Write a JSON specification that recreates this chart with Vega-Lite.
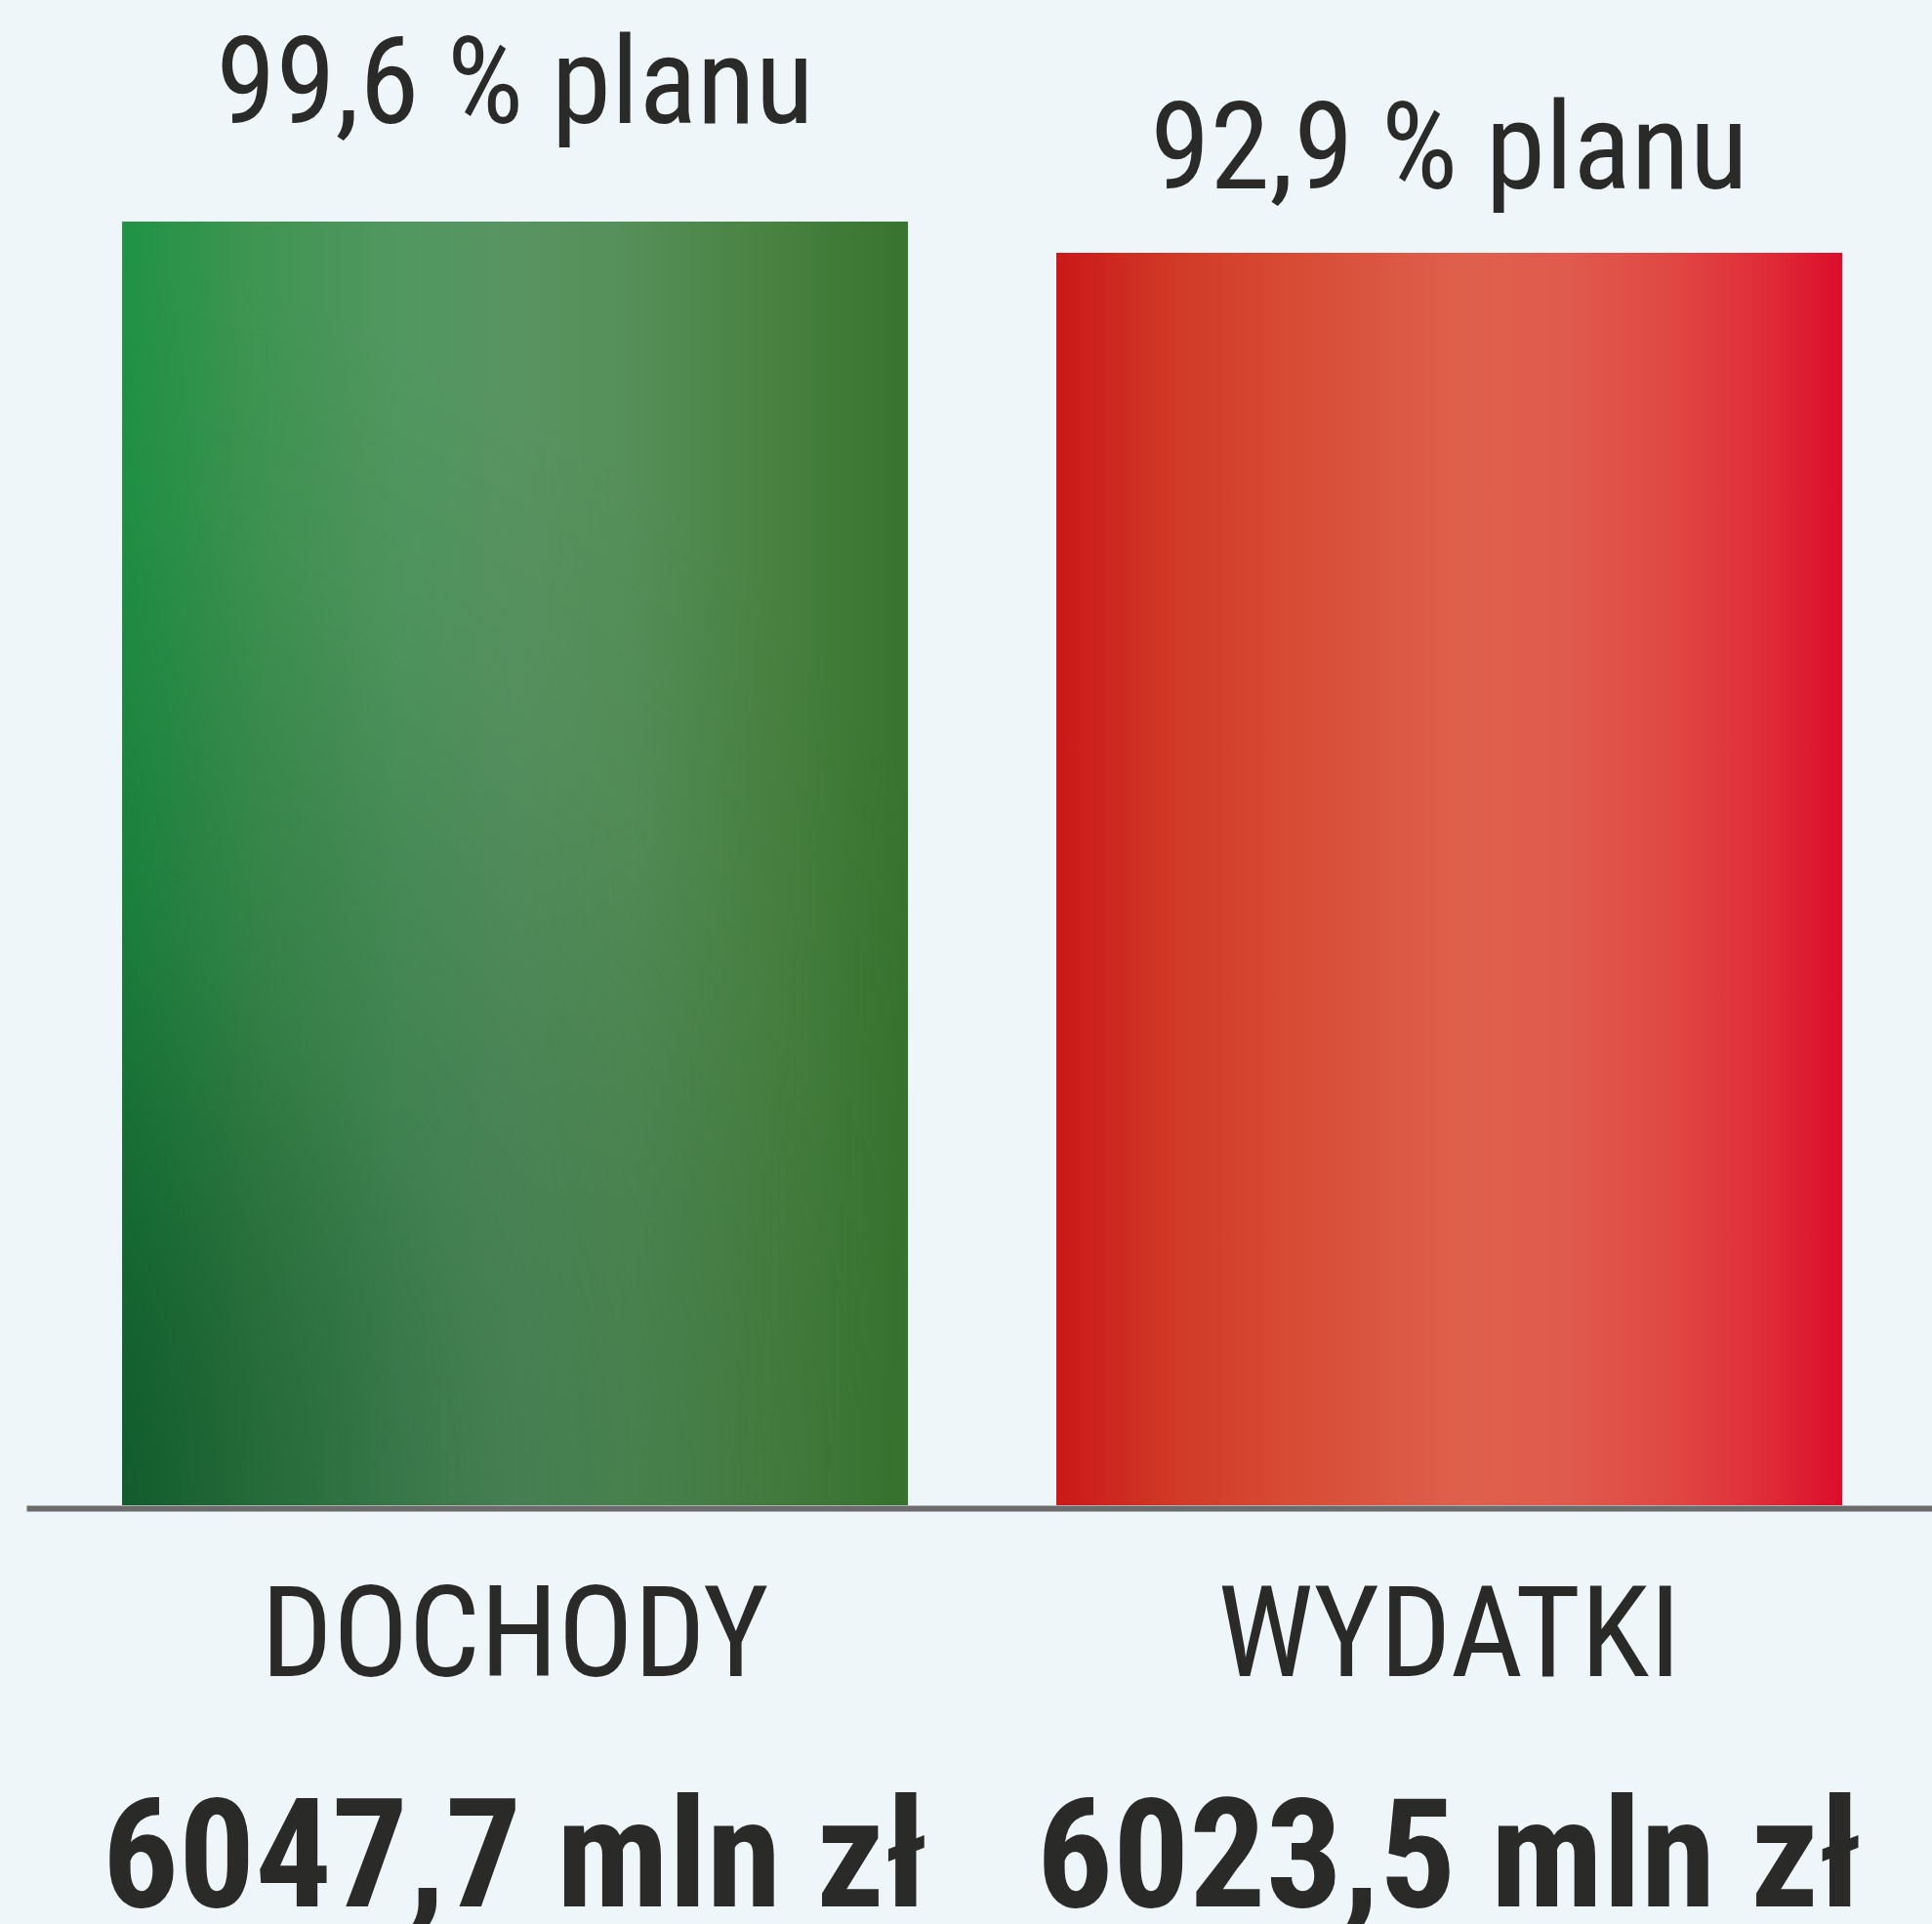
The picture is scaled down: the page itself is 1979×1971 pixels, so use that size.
{
  "$schema": "https://vega.github.io/schema/vega-lite/v6.json",
  "width": 1952,
  "height": 1542,
  "autosize": {"type": "none"},
  "padding": {"left": 27, "right": 0, "top": 0, "bottom": 429},
  "background": "#eef6fa",
  "config": {"view": {"stroke": null}},
  "data": {
    "values": [
      {"kategoria": "DOCHODY", "wartosc": 6047.7, "plan": "99,6 % planu", "etykieta": "6047,7 mln zł"},
      {"kategoria": "WYDATKI", "wartosc": 6023.5, "plan": "92,9 % planu", "etykieta": "6023,5 mln zł"}
    ]
  },
  "encoding": {
    "x": {
      "field": "kategoria",
      "type": "nominal",
      "sort": null,
      "scale": {"paddingInner": 0.1588, "paddingOuter": 0.0993, "align": 0.516},
      "axis": {
        "title": null,
        "orient": "bottom",
        "ticks": false,
        "domainColor": "#6b6b6b",
        "domainWidth": 6,
        "offset": 3,
        "labelAngle": 0,
        "labelLimit": 0,
        "labelFont": "Roboto Condensed, Roboto",
        "labelFontSize": 129,
        "labelColor": "#2a2a28",
        "labelBaseline": "alphabetic",
        "labelPadding": 171
      }
    }
  },
  "layer": [
    {
      "transform": [{"filter": "datum.kategoria === 'DOCHODY'"}],
      "mark": {
        "type": "bar",
        "fill": {
          "gradient": "linear", "x1": 0, "y1": 0, "x2": 1, "y2": 0,
          "stops": [
            {"offset": 0, "color": "#1f9345"},
            {"offset": 0.17, "color": "#3f9552"},
            {"offset": 0.35, "color": "#519760"},
            {"offset": 0.5, "color": "#589462"},
            {"offset": 0.65, "color": "#558f58"},
            {"offset": 0.82, "color": "#4a8242"},
            {"offset": 1, "color": "#38742f"}
          ]
        }
      },
      "encoding": {
        "y": {"field": "wartosc", "type": "quantitative", "scale": {"domain": [5055.5, 6219], "zero": false, "nice": false}, "axis": null},
        "y2": {"datum": 5055.5}
      }
    },
    {
      "transform": [{"filter": "datum.kategoria === 'DOCHODY'"}],
      "mark": {
        "type": "bar",
        "fill": {
          "gradient": "radial", "x1": 0, "y1": 1, "r1": 0, "x2": 0, "y2": 1, "r2": 1,
          "stops": [
            {"offset": 0, "color": "rgba(10,60,30,0.9)"},
            {"offset": 0.25, "color": "rgba(10,60,30,0.55)"},
            {"offset": 0.5, "color": "rgba(10,60,30,0.24)"},
            {"offset": 0.8, "color": "rgba(10,60,30,0.05)"},
            {"offset": 1, "color": "rgba(10,60,30,0)"}
          ]
        }
      },
      "encoding": {
        "y": {"field": "wartosc", "type": "quantitative"},
        "y2": {"datum": 5055.5}
      }
    },
    {
      "transform": [{"filter": "datum.kategoria === 'WYDATKI'"}],
      "mark": {
        "type": "bar",
        "fill": {
          "gradient": "linear", "x1": 0, "y1": 0, "x2": 1, "y2": 0,
          "stops": [
            {"offset": 0, "color": "#cb1719"},
            {"offset": 0.15, "color": "#d13a26"},
            {"offset": 0.3, "color": "#d74b34"},
            {"offset": 0.45, "color": "#dc5a45"},
            {"offset": 0.52, "color": "#de604b"},
            {"offset": 0.65, "color": "#e05a4d"},
            {"offset": 0.78, "color": "#e04843"},
            {"offset": 0.9, "color": "#df2d38"},
            {"offset": 1, "color": "#dc0d2c"}
          ]
        }
      },
      "encoding": {
        "y": {"field": "wartosc", "type": "quantitative"},
        "y2": {"datum": 5055.5}
      }
    },
    {
      "transform": [{"filter": "datum.kategoria === 'DOCHODY'"}],
      "mark": {"type": "text", "font": "Roboto Condensed, Roboto", "fontSize": 124, "color": "#2a2a28", "baseline": "alphabetic", "align": "center", "dy": -101},
      "encoding": {
        "y": {"field": "wartosc", "type": "quantitative"},
        "text": {"field": "plan"}
      }
    },
    {
      "transform": [{"filter": "datum.kategoria === 'WYDATKI'"}],
      "mark": {"type": "text", "font": "Roboto Condensed, Roboto", "fontSize": 124, "color": "#2a2a28", "baseline": "alphabetic", "align": "center", "dy": -66},
      "encoding": {
        "y": {"field": "wartosc", "type": "quantitative"},
        "text": {"field": "plan"}
      }
    },
    {
      "mark": {"type": "text", "font": "Roboto Condensed, Roboto", "fontSize": 155, "fontWeight": "bold", "color": "#2a2a28", "baseline": "alphabetic", "align": "center", "dy": 411},
      "encoding": {
        "y": {"datum": 5055.5},
        "text": {"field": "etykieta"}
      }
    }
  ]
}
